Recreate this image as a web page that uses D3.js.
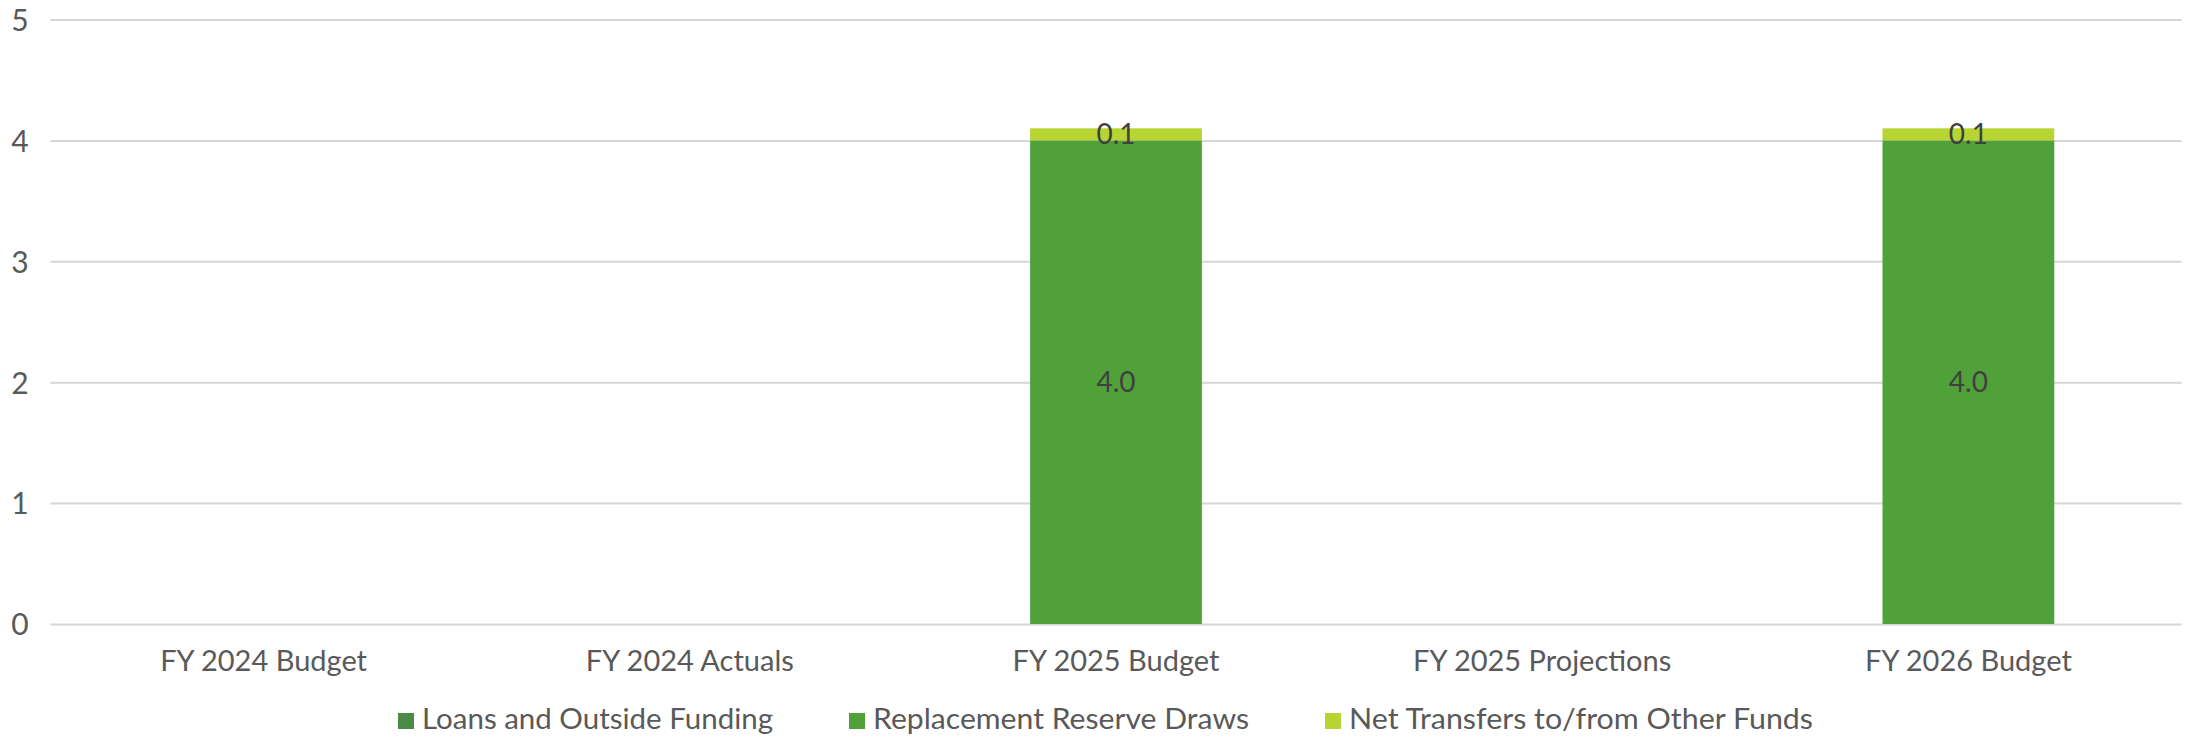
<!DOCTYPE html>
<html>
<head>
<meta charset="utf-8">
<script src="https://cdn.jsdelivr.net/npm/d3@7"></script>
<style>
  html, body { margin: 0; padding: 0; background: #ffffff; }
  svg { display: block; }
  text { font-family: Lato, "Open Sans", sans-serif; }
</style>
</head>
<body>
<svg id="chart" width="2188" height="739"></svg>
<script>
// Funding sources by fiscal year ($ millions)
const categories = ["FY 2024 Budget", "FY 2024 Actuals", "FY 2025 Budget", "FY 2025 Projections", "FY 2026 Budget"];
const loansOutside = [0, 0, 0, 0, 0];
const reserveDraws = [0, 0, 4.0, 0, 4.0];
const netTransfers = [0, 0, 0.1, 0, 0.1];
const seriesNames = ["Loans and Outside Funding", "Replacement Reserve Draws", "Net Transfers to/from Other Funds"];
const yTicks = [0, 1, 2, 3, 4, 5];

const colors = ["#4b8a45", "#50a13a", "#b7d433"];
const plot = { left: 50.5, right: 2181.5, top: 19.5, bottom: 624 };

const svg = d3.select("#chart");

const rows = categories.map((c, i) => ({
  category: c,
  s0: loansOutside[i],
  s1: reserveDraws[i],
  s2: netTransfers[i]
}));
const keys = ["s0", "s1", "s2"];
const stacked = d3.stack().keys(keys)(rows);

const pad = 0.597;
const x = d3.scaleBand()
  .domain(categories)
  .range([plot.left, plot.right])
  .paddingInner(pad)
  .paddingOuter(pad / 2);

const y = d3.scaleLinear().domain([0, 5]).range([plot.bottom, plot.top]);

// Horizontal gridlines
const grid = svg.append("g").attr("class", "grid")
  .call(d3.axisLeft(y).tickValues(yTicks).tickSize(-(plot.right - plot.left)).tickFormat(""))
  .attr("transform", `translate(${plot.left},0)`);
grid.select(".domain").remove();
grid.selectAll("line").attr("stroke", "#d6d6d6").attr("stroke-width", 2);

// Y tick labels
const yAxis = svg.append("g")
  .attr("transform", `translate(30,0)`)
  .call(d3.axisLeft(y).tickValues(yTicks).tickSize(0).tickPadding(0).tickFormat(d3.format("d")));
yAxis.select(".domain").remove();
yAxis.selectAll("text")
  .attr("font-size", 30)
  .attr("fill", "#595959")
  .attr("text-anchor", "middle")
  .attr("x", -10)
  .attr("dy", "0.36em");

// X category labels
const xAxis = svg.append("g")
  .attr("transform", `translate(0,${plot.bottom})`)
  .call(d3.axisBottom(x).tickSize(0).tickPadding(0));
xAxis.select(".domain").remove();
xAxis.selectAll("text")
  .attr("font-size", 29)
  .attr("fill", "#595959")
  .attr("y", 47)
  .attr("dy", 0);

// Stacked bars
const layers = svg.append("g").selectAll("g.layer")
  .data(stacked)
  .join("g")
  .attr("class", "layer")
  .attr("fill", (d, i) => colors[i]);

layers.selectAll("rect")
  .data(d => d.map(v => ({ v, cat: v.data.category })))
  .join("rect")
  .attr("x", d => x(d.cat))
  .attr("width", x.bandwidth())
  .attr("y", d => y(d.v[1]))
  .attr("height", d => Math.max(0, y(d.v[0]) - y(d.v[1])));

// Value labels for non-zero segments
const labels = svg.append("g");
stacked.forEach(layer => {
  layer.forEach(v => {
    const val = v[1] - v[0];
    if (val > 0) {
      labels.append("text")
        .attr("x", x(v.data.category) + x.bandwidth() / 2)
        .attr("y", (y(v[0]) + y(v[1])) / 2)
        .attr("dy", "0.36em")
        .attr("text-anchor", "middle")
        .attr("font-size", 28)
        .attr("fill", "#404040")
        .text(d3.format(".1f")(val));
    }
  });
});

// Legend
const legendItems = [
  { name: seriesNames[0], color: colors[0], x: 398, w: 351 },
  { name: seriesNames[1], color: colors[1], x: 849, w: 376 },
  { name: seriesNames[2], color: colors[2], x: 1325, w: 464 }
];
const legend = svg.append("g").attr("class", "legend");
const li = legend.selectAll("g").data(legendItems).join("g")
  .attr("transform", d => `translate(${d.x},719)`);
li.append("rect")
  .attr("x", 0).attr("y", -6)
  .attr("width", 16).attr("height", 16)
  .attr("fill", d => d.color);
li.append("text")
  .attr("x", 24)
  .attr("y", 0)
  .attr("dy", "0.36em")
  .attr("font-size", 28)
  .attr("fill", "#595959")
  .attr("textLength", d => d.w)
  .attr("lengthAdjust", "spacingAndGlyphs")
  .text(d => d.name);
</script>
</body>
</html>
